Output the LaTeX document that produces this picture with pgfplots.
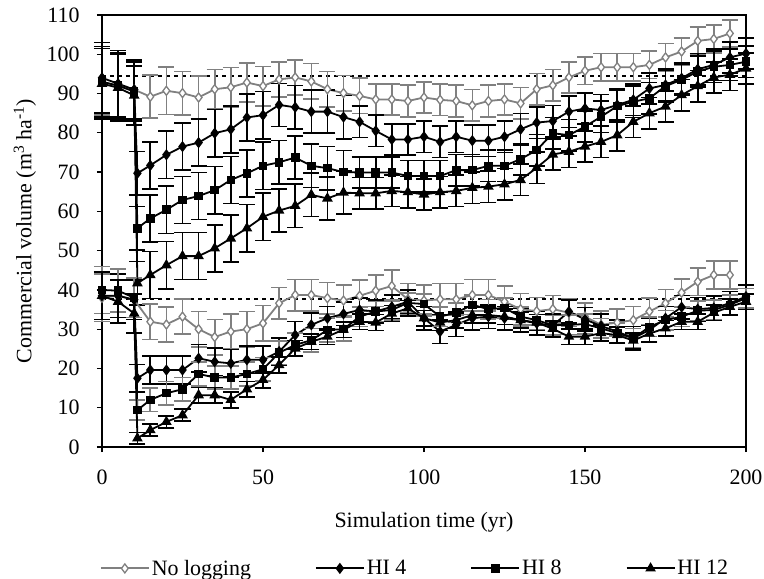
\documentclass[border=0pt]{standalone}
\usepackage{fontspec}
\setmainfont{Liberation Serif}
\usepackage{pgfplots}
\pgfplotsset{compat=1.18}
\usepackage{pgfplotstable}
\definecolor{nlgray}{RGB}{128,128,128}

\pgfplotstableread{
x y e
0 93 8.5
5 92 8
10 91 7.5
15 89.2 5.5
20 90.7 6
25 90.1 5.5
30 89.0 5.5
35 91.1 5
40 91.6 5
45 92.8 5
50 91.9 5
55 93.6 4.5
60 94.1 4.5
65 93.1 4.5
70 91.1 4.5
75 90.1 4.5
80 89.4 4.5
85 88.5 4
90 88.5 4
95 88.1 4
100 89.0 4
105 88.4 4
110 88.1 4
115 87.0 4
120 88.1 4
125 88.5 4
130 87.5 4
135 91.1 4
140 92.1 4
145 94.1 4
150 95.8 3.5
155 96.7 3.5
160 96.7 3.5
165 96.7 3.5
170 97.3 3.5
175 99.2 3.5
180 100.7 3.5
185 103.4 3.5
190 103.9 3.5
195 105.3 3.5
}\nlu

\pgfplotstableread{
x y e
0 94 9
5 92.5 8.5
10 91 7.5
11 69.7 5.5
15 71.7 6
20 74.4 6
25 76.5 6
30 77.5 6
35 79.9 6
40 80.9 6
45 83.9 6
50 84.5 6
55 87.1 5.5
60 86.5 5.5
65 85.4 5.5
70 85.4 5.5
75 84.0 5.5
80 82.8 4
85 80.5 4
90 78.3 4
95 78.3 4
100 79.0 4
105 77.7 4
110 79.0 4
115 78.0 4
120 78.0 4
125 79.0 4
130 80.9 4
135 82.6 4
140 83.0 4
145 85.4 4
150 86.2 4
155 85.8 4
160 87.1 4
165 88.4 4
170 91.3 4
175 92.2 4
180 93.9 4
185 96.2 4
190 97.3 4
195 99.2 4
200 100.2 4
}\hifu

\pgfplotstableread{
x y e
0 93 9
5 92 8.5
10 90.5 7.5
11 55.7 5.5
15 58.2 6
20 60.4 6
25 62.9 6
30 63.9 6
35 65.4 6
40 68.0 6
45 69.7 6
50 71.6 6
55 72.5 5.5
60 73.7 5.5
65 71.6 5.5
70 71.0 5.5
75 70.0 5.5
80 69.9 4
85 69.9 4
90 69.9 4
95 69.0 4
100 69.0 4
105 69.0 4
110 70.5 4
115 70.5 4
120 71.6 4
125 71.6 4
130 73.3 4
135 75.6 4
140 79.9 4
145 79.4 4
150 81.6 4
155 84.1 4
160 86.8 4
165 87.9 4
170 88.8 4
175 91.9 4
180 93.5 4
185 95.6 4
190 96.8 4
195 97.3 4
200 98.1 4
}\hieu

\pgfplotstableread{
x y e
0 92.5 9
5 91.5 8.5
10 89.5 7.5
11 41.7 5.5
15 43.8 6
20 46.3 6
25 48.6 6
30 48.6 6
35 50.6 6
40 53.1 6
45 55.7 6
50 58.6 6
55 60.2 5.5
60 61.4 5.5
65 64.2 5.5
70 63.3 5.5
75 64.8 5.5
80 64.6 4
85 64.6 4
90 65.2 4
95 64.9 4
100 64.3 4
105 64.9 4
110 65.2 4
115 66.0 4
120 66.3 4
125 66.9 4
130 68.0 4
135 71.1 4
140 74.5 4
145 75.2 4
150 76.5 4
155 77.7 4
160 79.4 4
165 82.8 4
170 85.0 4
175 86.7 4
180 89.6 4
185 91.9 4
190 94.1 4
195 94.8 4
200 96.4 4
}\hitu

\pgfplotstableread{
x y e
0 38 6
5 38.5 5.5
10 37.5 5
15 31.9 4.5
20 31.2 4.5
25 33.2 4.5
30 30.0 4.5
35 28.0 4.5
40 29.4 4.5
45 30.0 4.5
50 31.5 4.5
55 36.6 4
60 38.7 4
65 38.7 4
70 37.9 4
75 37.3 4
80 38.5 4
85 39.8 4
90 41.0 4
95 37.6 4
100 37.3 4
105 37.6 4
110 37.6 4
115 38.7 4
120 38.7 4
125 37.0 4
130 35.1 4
135 34.6 3.5
140 35.1 3.5
145 34.2 3.5
150 33.2 3.5
155 31.1 3.5
160 31.7 3.5
165 32.3 3.5
170 34.5 3.5
175 36.6 3.5
180 39.3 3.5
185 42.1 3.5
190 43.8 3.5
195 43.8 3.5
}\nll

\pgfplotstableread{
x y e
0 38.5 6
5 38.5 5.5
10 37.5 5
11 17.5 3.5
15 19.6 3.5
20 19.6 3.5
25 19.6 3.5
30 22.6 3.5
35 21.7 3.5
40 21.3 3.5
45 22.2 3.5
50 22.2 3.5
55 24.3 3.5
60 28.5 3.5
65 31.1 3
70 32.8 3
75 33.9 3
80 34.9 3
85 34.5 3
90 35.7 3
95 37.0 3
100 32.8 3
105 29.4 3
110 31.1 3
115 32.8 3
120 33.2 3
125 32.8 3
130 32.3 3
135 31.5 3
140 30.9 3
145 34.5 3
150 32.5 3
155 30.8 3
160 29.4 3
165 27.7 3
170 29.8 3
175 32.8 3
180 35.6 3
185 35.1 3
190 35.4 3
195 36.6 3
200 38.3 3
}\hifl

\pgfplotstableread{
x y e
0 40 6
5 39.8 5.5
10 38 5
11 9.4 2.5
15 12.0 3
20 13.7 3
25 14.7 3
30 18.6 3
35 17.7 3
40 17.7 3
45 18.6 3
50 19.8 3
55 24.0 3
60 26.0 3
65 27.2 3
70 29.8 3
75 30.0 3
80 33.2 2.5
85 34.5 2.5
90 34.9 2.5
95 36.7 2.5
100 36.4 2.5
105 33.2 2.5
110 34.2 2.5
115 36.2 2.5
120 35.1 2.5
125 35.4 2.5
130 33.2 2.5
135 32.3 2.5
140 31.0 2.5
145 31.1 2.5
150 31.3 2.5
155 30.2 2.5
160 29.0 2.5
165 27.7 2.5
170 30.6 2.5
175 32.3 2.5
180 33.2 2.5
185 34.7 2.5
190 34.9 2.5
195 36.2 2.5
200 37.9 2.5
}\hiel

\pgfplotstableread{
x y e
0 38.5 6
5 37 5.5
10 34 5
11 2.2 1.5
15 4.3 1.5
20 6.4 1.5
25 8.1 1.5
30 13.2 2
35 13.2 2
40 12.0 2
45 14.7 2
50 17.1 2
55 20.9 2
60 25.1 2
65 26.8 2
70 28.1 2
75 29.9 2
80 31.9 2
85 31.7 2
90 34.0 2
95 35.3 2
100 32.8 2
105 31.7 2
110 32.3 2
115 33.6 2
120 33.6 2
125 33.2 2
130 32.3 2
135 31.7 2
140 30.1 2
145 28.1 2
150 28.1 2
155 29.0 2
160 28.5 2
165 27.1 2
170 28.9 2
175 30.2 2
180 31.9 2
185 31.9 2
190 34.2 2
195 35.7 2
200 37.0 2
}\hitl

\pgfplotsset{
  ebars/.style={
    error bars/y dir=both, error bars/y explicit,
    error bars/error bar style={#1, line width=1.6bp, solid},
    error bars/error mark options={rotate=90, mark size=8bp, #1, line width=1.6bp, solid}},
  nlser/.style={color=nlgray, line width=1.8bp, mark=diamond*, mark size=4.5bp,
    mark options={fill=white, draw=nlgray, line width=1.3bp, solid}, ebars=nlgray},
  hiser/.style={color=black, line width=1.8bp, mark options={fill=black, draw=black, solid}, ebars=#1},
  hiser/.default=black,
}

\begin{document}
\begin{tikzpicture}[font=\fontsize{22}{26}\selectfont]
\useasboundingbox (-102bp,-132bp) rectangle (662bp,447bp);
\begin{axis}[
  at={(0,0)}, anchor=south west,
  scale only axis, width=644bp, height=432bp,
  xmin=0, xmax=200, ymin=0, ymax=110,
  xtick={0,50,...,200}, ytick={0,10,...,110},
  tick pos=left, tick align=outside,
  major tick length=5bp,
  tick style={black, line width=1.3bp},
  axis line style={black, line width=1.5bp},
  /pgf/number format/assume math mode=true,
  xticklabel style={yshift=-14bp},
  yticklabel style={xshift=-14bp},
  xlabel={Simulation time (yr)},
  ylabel={Commercial volume (m\textsuperscript{3} ha\textsuperscript{-1})},
  xlabel style={at={(rel axis cs:0.5,0)}, anchor=center, yshift=-75bp},
  ylabel style={at={(rel axis cs:0,0.5)}, anchor=center, yshift=77bp},
  clip=false,
  legend columns=4,
  legend style={at={(rel axis cs:0.486,-0.281)}, anchor=center, draw=none, fill=none,
    /tikz/every even column/.append style={column sep=62bp}},
  legend image code/.code={\draw[mark repeat=2, mark phase=2] plot coordinates {(0bp,0bp) (24bp,0bp) (48bp,0bp)};},
]
\addplot[black, line width=2bp, dash pattern=on 4bp off 4bp, forget plot] coordinates {(0,94.5) (200,94.5)};
\addplot[black, line width=2bp, dash pattern=on 4bp off 4bp, forget plot] coordinates {(0,37.8) (200,37.8)};

\addplot[nlser] table[x=x, y=y, y error=e] {\nlu};
\addlegendentry{No logging}
\addplot[hiser, mark=diamond*, mark size=4.2bp] table[x=x, y=y, y error=e] {\hifu};
\addlegendentry{HI 4}
\addplot[hiser, mark=square*, mark size=3.4bp] table[x=x, y=y, y error=e] {\hieu};
\addlegendentry{HI 8}
\addplot[hiser, mark=triangle*, mark size=4.4bp] table[x=x, y=y, y error=e] {\hitu};
\addlegendentry{HI 12}

\addplot[nlser, forget plot] table[x=x, y=y, y error=e] {\nll};
\addplot[hiser, mark=diamond*, mark size=4.2bp, forget plot] table[x=x, y=y, y error=e] {\hifl};
\addplot[hiser=nlgray, mark=square*, mark size=3.4bp, forget plot] table[x=x, y=y, y error=e] {\hiel};
\addplot[hiser, mark=triangle*, mark size=4.4bp, forget plot] table[x=x, y=y, y error=e] {\hitl};
\end{axis}
\end{tikzpicture}
\end{document}
